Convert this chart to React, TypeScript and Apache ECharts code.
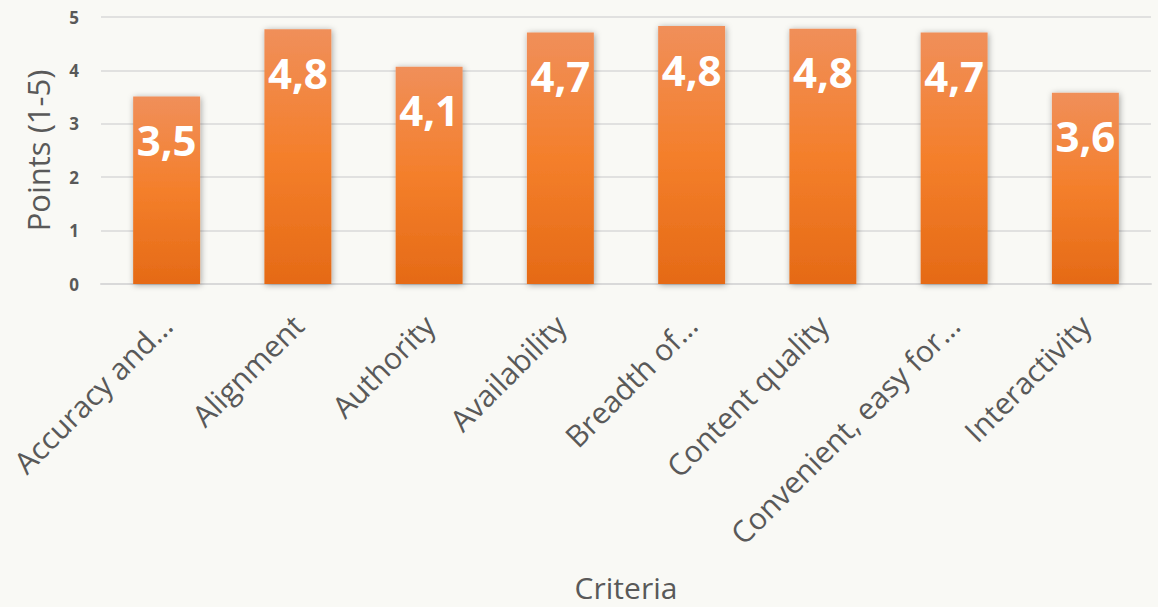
import React, { useEffect, useRef } from "react";
import * as echarts from "echarts";

const categories = [
  "Accuracy and…",
  "Alignment",
  "Authority",
  "Availability",
  "Breadth of…",
  "Content quality",
  "Convenient, easy for…",
  "Interactivity",
];
const values = [3.51, 4.77, 4.07, 4.71, 4.83, 4.78, 4.71, 3.58];
const yTicks = [0, 1, 2, 3, 4, 5];

export default function App() {
  const ref = useRef<HTMLDivElement>(null);
  useEffect(() => {
    if (!ref.current) return;
    const chart = echarts.init(ref.current, undefined, { renderer: "svg" });
    const font = "'Open Sans', 'Noto Sans', sans-serif";
    chart.setOption({
      animation: false,
      backgroundColor: "#f9f9f5",
      textStyle: { fontFamily: font },
      grid: {
        left: 101,
        right: 7,
        top: 17,
        bottom: 323,
        containLabel: false,
        outerBoundsMode: "none",
      },
      xAxis: {
        type: "category",
        data: categories,
        name: "Criteria",
        nameLocation: "middle",
        nameGap: 288,
        nameTextStyle: {
          fontSize: 30,
          color: "#595959",
          fontFamily: font,
        },
        axisLine: { show: true, lineStyle: { color: "#d9d9d9", width: 2 } },
        axisTick: { show: false },
        axisLabel: {
          rotate: 45,
          interval: 0,
          fontSize: 30,
          color: "#595959",
          fontFamily: font,
          margin: 36,
        },
      },
      yAxis: {
        type: "value",
        min: yTicks[0],
        max: yTicks[yTicks.length - 1],
        interval: 1,
        name: "Points (1-5)",
        nameLocation: "middle",
        nameGap: 48,
        nameTextStyle: { fontSize: 31, color: "#595959", fontFamily: font },
        axisLine: { show: false },
        axisTick: { show: false },
        splitLine: { lineStyle: { color: "#d9d9d9", width: 1.5 } },
        axisLabel: {
          fontSize: 17,
          fontWeight: "bold",
          color: "#595959",
          margin: 22,
          fontFamily: font,
        },
      },
      series: [
        {
          type: "bar",
          data: values,
          barWidth: "51%",
          itemStyle: {
            color: new echarts.graphic.LinearGradient(0, 0, 0, 1, [
              { offset: 0, color: "#f08f5a" },
              { offset: 0.5, color: "#f47f2b" },
              { offset: 1, color: "#e56a16" },
            ]),
            shadowColor: "rgba(0,0,0,0.35)",
            shadowBlur: 6,
            shadowOffsetX: 1,
            shadowOffsetY: 1,
          },
          label: {
            show: true,
            position: "insideTop",
            distance: 22,
            color: "#ffffff",
            fontSize: 42,
            fontWeight: "bold",
            fontFamily: font,
            formatter: (p: any) => Number(p.value).toFixed(1).replace(".", ","),
          },
        },
      ],
    });
    return () => chart.dispose();
  }, []);
  return (
    <div
      ref={ref}
      style={{ position: "fixed", left: 0, top: 0, width: 1158, height: 607 }}
    />
  );
}
